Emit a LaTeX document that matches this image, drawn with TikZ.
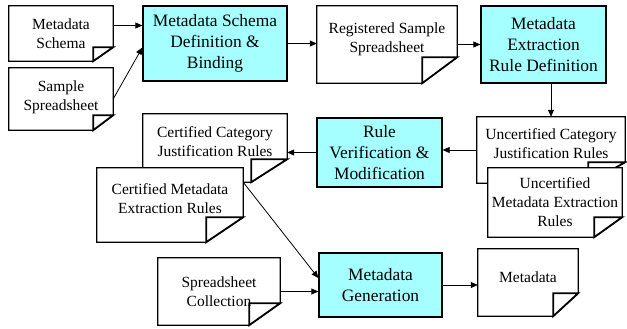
\documentclass[tikz,border=0pt]{standalone}
\usepackage{fontspec}
\setmainfont{Liberation Serif}
\usepackage{xcolor}
\usepackage{tikz}
\usetikzlibrary{
	arrows.meta,
	calc,
	backgrounds,
	positioning
}
\definecolor{StepCyan}{RGB}{166,255,255}

\begin{document}
\begin{tikzpicture}[x=1pt, y=-1pt,
		doc/.style={rectangle, inner sep=0pt, align=center, font=\fontsize{15.5}{19}\selectfont},
		stepbox/.style={rectangle, draw, line width=1.3pt, fill=StepCyan, inner sep=0pt, align=center, font=\fontsize{17.4}{21}\selectfont},
		docline/.style={draw=black, fill=white, line width=1.2pt},
		foldline/.style={draw=black, fill=white, line width=1.8pt},
		arr/.style={-{Triangle[length=7pt,width=6pt]}, line width=0.8pt}]
		\useasboundingbox (0,0) rectangle (627,329);
		\node[doc, minimum width=104pt, minimum height=55pt] (schema) at (61,33.5) {Metadata\\Schema};
		\node[doc, minimum width=104pt, minimum height=62pt, text depth=7.5pt] (sample) at (61,99) {Sample\\Spreadsheet};
		\node[stepbox, minimum width=144pt, minimum height=75pt] (def) at (215,43.5) {Metadata Schema\\Definition \&\\Binding};
		\node[doc, minimum width=140pt, minimum height=77pt, text depth=13.4pt] (reg) at (387,44.5) {Registered Sample\\Spreadsheet};
		\node[stepbox, minimum width=125pt, minimum height=77pt] (extr) at (543.5,44.5) {Metadata\\Extraction\\Rule Definition};
		\node[doc, minimum width=148pt, minimum height=66pt, text depth=12.5pt] (uncat) at (551,150) {Uncertified Category\\Justification Rules};
		\node[doc, minimum width=134pt, minimum height=69pt] (unext) at (555,202.5) {Uncertified\\Metadata Extraction\\Rules};
		\node[stepbox, minimum width=125pt, minimum height=69pt] (verif) at (379.5,152.5) {Rule\\Verification \&\\Modification};
		\node[doc, minimum width=144pt, minimum height=68pt, text depth=13.5pt] (certcat) at (215,148) {Certified Category\\Justification Rules};
		\node[doc, minimum width=146pt, minimum height=74pt, text depth=13pt] (certext) at (170,205) {Certified Metadata\\Extraction Rules};
		\node[doc, minimum width=122pt, minimum height=67pt] (coll) at (219,291.5) {Spreadsheet\\Collection};
		\node[stepbox, minimum width=123pt, minimum height=64pt] (gen) at (380.5,285) {Metadata\\Generation};
		\node[doc, minimum width=100pt, minimum height=67pt, text depth=10pt] (meta) at (528,282.5) {Metadata};
		\begin{scope}[on background layer]
			\foreach \n/\fw/\fh in {schema/20/14, sample/20/15, reg/35/26, uncat/37/21, unext/28/20, certcat/36/23, certext/37/25, coll/31/22, meta/25/23}{
				\draw[docline] (\n.north west) -- (\n.north east) -- ([yshift=\fh pt]\n.south east) -- ([xshift=-\fw pt]\n.south east) -- (\n.south west) -- cycle;
				\draw[foldline] ([yshift=\fh pt]\n.south east) -- ([xshift=-\fw pt,yshift=\fh pt]\n.south east) -- ([xshift=-\fw pt]\n.south east) -- cycle;
			}
		\end{scope}
		\draw[arr] ([yshift=8pt]schema.east) -- ([yshift=8pt]schema.east -| def.west);
		\draw[arr] (sample.east) -- ([yshift=-4pt]def.west);
		\draw[arr] (def.east) -- (def.east -| reg.west);
		\draw[arr] (reg.east) -- (extr.west);
		\draw[arr] (uncat.north |- extr.south) -- (uncat.north);
		\draw[arr] (uncat.west) -- (uncat.west -| verif.east);
		\draw[arr] (verif.west) -- (verif.west -| certcat.east);
		\coordinate (certcorner) at (certext.east |- certcat.south);
		\draw[arr] (certcorner) -- ([yshift=7pt]gen.west);
		\draw[arr] (coll.east) -- (coll.east -| gen.west);
		\draw[arr] (gen.east) -- (gen.east -| meta.west);
	\end{tikzpicture}
\end{document}
